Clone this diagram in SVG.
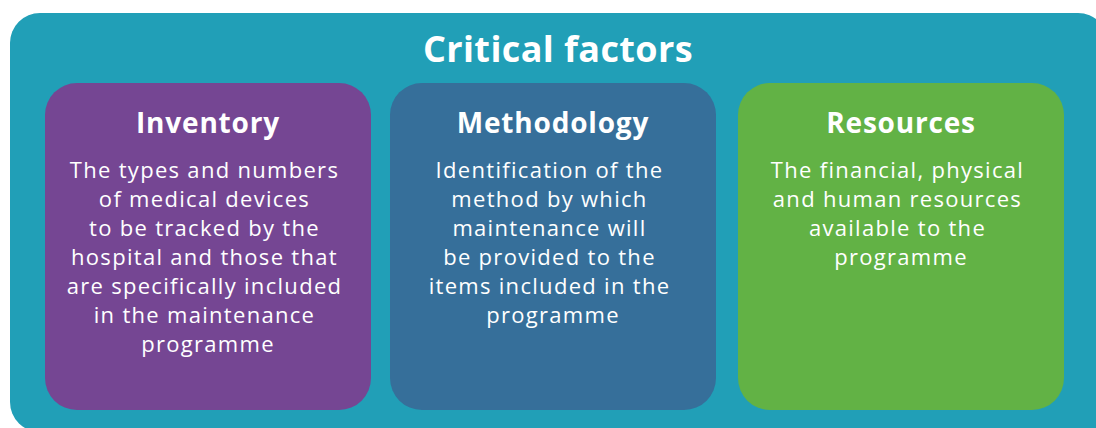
<svg xmlns="http://www.w3.org/2000/svg" width="1096" height="428" viewBox="0 0 1096 428">
<style>
.title{font-family:"Open Sans","Liberation Sans",sans-serif;font-weight:700;font-size:36px;letter-spacing:0.4px;fill:#fff;text-anchor:middle}
.head{font-family:"Open Sans","Liberation Sans",sans-serif;font-weight:700;font-size:28px;letter-spacing:0.8px;fill:#fff;text-anchor:middle}
.body{font-family:"Open Sans","Liberation Sans",sans-serif;font-size:22px;letter-spacing:1.3px;fill:#fff;text-anchor:middle}
</style>
<rect width="1096" height="428" fill="#fff"/>
<g id="frame">
<path d="M40 13 H1078 A30 30 0 0 1 1108 43 V432 H40 A30 30 0 0 1 10 402 V43 A30 30 0 0 1 40 13 Z" fill="#219fb7"/>
<text class="title" x="558" y="62">Critical factors</text>
</g>
<g id="inventory">
<rect x="45" y="83" width="326" height="327" rx="32" fill="#754693"/>
<text class="head" x="208" y="133">Inventory</text>
<text class="body" x="208" y="178">
<tspan x="208" dy="0">The types and numbers</tspan>
<tspan x="208" dy="29">of medical devices</tspan>
<tspan x="208" dy="29">to be tracked by the</tspan>
<tspan x="208" dy="29">hospital and those that</tspan>
<tspan x="208" dy="29">are specifically included</tspan>
<tspan x="208" dy="29">in the maintenance</tspan>
<tspan x="208" dy="29">programme</tspan>
</text>
</g>
<g id="methodology">
<rect x="390" y="83" width="326" height="327" rx="32" fill="#366f9a"/>
<text class="head" x="553" y="133">Methodology</text>
<text class="body" x="553" y="178">
<tspan x="553" dy="0">Identification of the</tspan>
<tspan x="553" dy="29">method by which</tspan>
<tspan x="553" dy="29">maintenance will</tspan>
<tspan x="553" dy="29">be provided to the</tspan>
<tspan x="553" dy="29">items included in the</tspan>
<tspan x="553" dy="29">programme</tspan>
</text>
</g>
<g id="resources">
<rect x="738" y="83" width="326" height="327" rx="32" fill="#62b245"/>
<text class="head" x="901" y="133">Resources</text>
<text class="body" x="901" y="178">
<tspan x="901" dy="0">The financial, physical</tspan>
<tspan x="901" dy="29">and human resources</tspan>
<tspan x="901" dy="29">available to the</tspan>
<tspan x="901" dy="29">programme</tspan>
</text>
</g>
<g id="connectors"/>
</svg>
